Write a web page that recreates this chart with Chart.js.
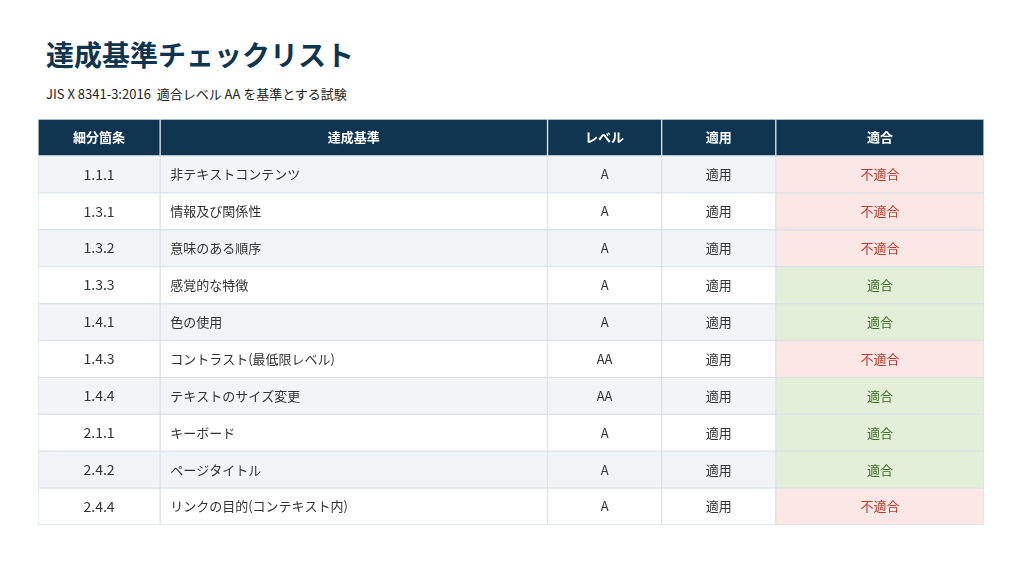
<!DOCTYPE html>
<html><head><meta charset="utf-8">
<script src="https://cdn.jsdelivr.net/npm/chart.js@4"></script>
<style>
body{margin:0;width:1024px;height:576px;background:#fff;font-family:"Noto Sans CJK JP","Noto Sans",sans-serif;position:relative;overflow:hidden}
h1{position:absolute;left:46px;top:34px;margin:0;font-size:28px;font-weight:700;color:#0f3550}
.sub{position:absolute;left:46px;top:84px;font-size:13px;color:#222}
#wrap{position:absolute;left:38px;top:119px;width:946px;height:406px}
</style></head><body>
<h1>達成基準チェックリスト</h1>
<div class="sub">JIS X 8341-3:2016&nbsp; 適合レベル AA を基準とする試験</div>
<div id="wrap"><canvas id="c"></canvas></div>
<script>
const headers = ['細分箇条', '達成基準', 'レベル', '適用', '適合'];
const colWidths = [122, 387, 114, 114, 208];
const clauses = ['1.1.1', '1.3.1', '1.3.2', '1.3.3', '1.4.1', '1.4.3', '1.4.4', '2.1.1', '2.4.2', '2.4.4'];
const criteria = ['非テキストコンテンツ', '情報及び関係性', '意味のある順序', '感覚的な特徴', '色の使用',
  'コントラスト(最低限レベル)', 'テキストのサイズ変更', 'キーボード', 'ページタイトル', 'リンクの目的(コンテキスト内)'];
const levels = ['A', 'A', 'A', 'A', 'A', 'AA', 'AA', 'A', 'A', 'A'];
const applied = ['適用', '適用', '適用', '適用', '適用', '適用', '適用', '適用', '適用', '適用'];
const results = ['不適合', '不適合', '不適合', '適合', '適合', '不適合', '適合', '適合', '適合', '不適合'];

const rowLabels = ['header', ...clauses];
const columns = [clauses, criteria, levels, applied, results];
const edges = [0];
colWidths.forEach(w => edges.push(edges[edges.length - 1] + w));

function cellColor(col, row) {
  if (row === 0) return '#0f3550';
  if (col === 4) return results[row - 1] === '適合' ? '#e3efd8' : '#fbe7e6';
  return row % 2 === 1 ? '#f1f5f8' : '#ffffff';
}

const datasets = headers.map((h, ci) => ({
  label: h,
  data: rowLabels.map(() => [edges[ci], edges[ci + 1]]),
  backgroundColor: ctx => cellColor(ci, ctx.dataIndex),
  borderColor: '#dce3e8',
  borderWidth: 1,
  borderSkipped: false,
  barPercentage: 1,
  categoryPercentage: 1,
  grouped: false
}));

const textPlugin = {
  id: 'cellText',
  afterDatasetsDraw(chart) {
    const { ctx, scales: { x, y } } = chart;
    ctx.save();
    ctx.textBaseline = 'middle';
    rowLabels.forEach((lab, ri) => {
      const cy = y.getPixelForValue(ri);
      headers.forEach((h, ci) => {
        const x0 = x.getPixelForValue(edges[ci]);
        const x1 = x.getPixelForValue(edges[ci + 1]);
        let txt, color = '#333', font = '13px "Noto Sans CJK JP"';
        if (ri === 0) { txt = h; color = '#fff'; font = 'bold 13px "Noto Sans CJK JP"'; }
        else {
          txt = columns[ci][ri - 1];
          if (ci === 0) font = '14px "Noto Sans CJK JP"';
          if (ci === 4) color = txt === '適合' ? '#3f6b25' : '#c0392b';
        }
        ctx.font = font; ctx.fillStyle = color;
        if (ci === 1 && ri > 0) { ctx.textAlign = 'left'; ctx.fillText(txt, x0 + 10, cy); }
        else { ctx.textAlign = 'center'; ctx.fillText(txt, (x0 + x1) / 2, cy); }
      });
    });
    ctx.restore();
  }
};

new Chart(document.getElementById('c'), {
  type: 'bar',
  data: { labels: rowLabels, datasets },
  options: {
    indexAxis: 'y', responsive: true, maintainAspectRatio: false, animation: false,
    layout: { padding: 0 },
    plugins: { legend: { display: false }, tooltip: { enabled: false } },
    scales: {
      x: { type: 'linear', min: 0, max: edges[edges.length - 1], display: false },
      y: { display: false, offset: true }
    }
  },
  plugins: [textPlugin]
});
</script>
</body></html>
